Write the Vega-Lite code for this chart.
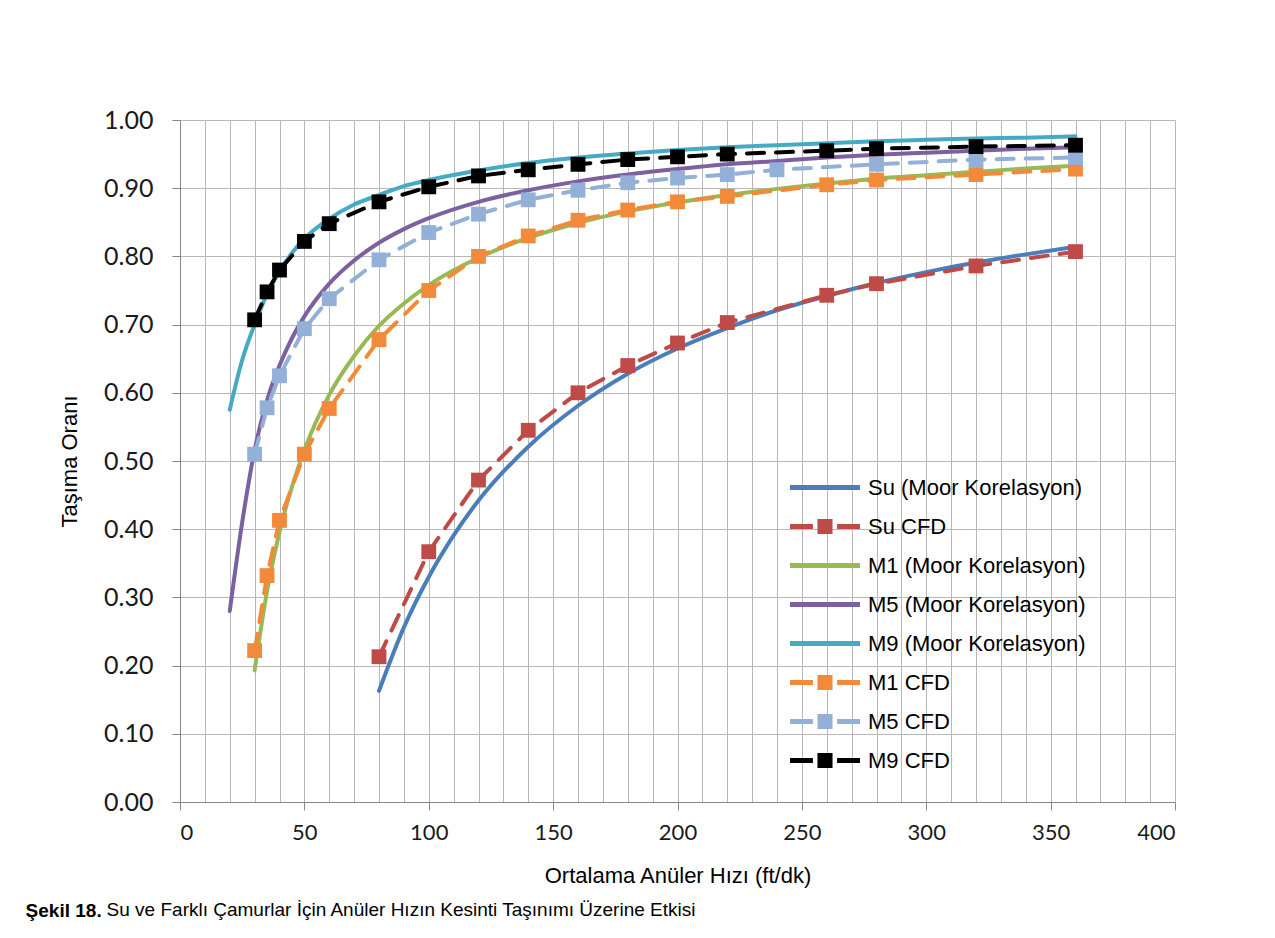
{
  "$schema": "https://vega.github.io/schema/vega-lite/v6.json",
  "background": "white",
  "padding": {"left": 25, "top": 108, "right": 5, "bottom": 5},
  "config": {
    "view": {"stroke": null},
    "font": "Liberation Sans",
    "axis": {
      "domainColor": "#868686",
      "domainWidth": 1,
      "tickColor": "#868686",
      "gridColor": "#b8b8b8",
      "gridWidth": 1,
      "labelFont": "Lato",
      "labelColor": "#1a1a1a",
      "titleFont": "Liberation Sans",
      "titleFontWeight": "normal",
      "titleColor": "#000000"
    }
  },
  "datasets": {
    "series": [
      {"seri": "Su (Moor Korelasyon)"},
      {"seri": "Su CFD"},
      {"seri": "M1 (Moor Korelasyon)"},
      {"seri": "M5 (Moor Korelasyon)"},
      {"seri": "M9 (Moor Korelasyon)"},
      {"seri": "M1 CFD"},
      {"seri": "M5 CFD"},
      {"seri": "M9 CFD"}
    ],
    "moore": [
      {"seri": "Su (Moor Korelasyon)", "v": 80, "oran": 0.163},
      {"seri": "Su (Moor Korelasyon)", "v": 90, "oran": 0.256},
      {"seri": "Su (Moor Korelasyon)", "v": 100, "oran": 0.33},
      {"seri": "Su (Moor Korelasyon)", "v": 110, "oran": 0.391},
      {"seri": "Su (Moor Korelasyon)", "v": 120, "oran": 0.442},
      {"seri": "Su (Moor Korelasyon)", "v": 140, "oran": 0.521},
      {"seri": "Su (Moor Korelasyon)", "v": 160, "oran": 0.581},
      {"seri": "Su (Moor Korelasyon)", "v": 180, "oran": 0.628},
      {"seri": "Su (Moor Korelasyon)", "v": 200, "oran": 0.665},
      {"seri": "Su (Moor Korelasyon)", "v": 220, "oran": 0.695},
      {"seri": "Su (Moor Korelasyon)", "v": 240, "oran": 0.721},
      {"seri": "Su (Moor Korelasyon)", "v": 260, "oran": 0.742},
      {"seri": "Su (Moor Korelasyon)", "v": 280, "oran": 0.761},
      {"seri": "Su (Moor Korelasyon)", "v": 300, "oran": 0.777},
      {"seri": "Su (Moor Korelasyon)", "v": 320, "oran": 0.791},
      {"seri": "Su (Moor Korelasyon)", "v": 340, "oran": 0.803},
      {"seri": "Su (Moor Korelasyon)", "v": 360, "oran": 0.814},

      {"seri": "M1 (Moor Korelasyon)", "v": 30, "oran": 0.193},
      {"seri": "M1 (Moor Korelasyon)", "v": 35, "oran": 0.309},
      {"seri": "M1 (Moor Korelasyon)", "v": 40, "oran": 0.396},
      {"seri": "M1 (Moor Korelasyon)", "v": 45, "oran": 0.462},
      {"seri": "M1 (Moor Korelasyon)", "v": 50, "oran": 0.516},
      {"seri": "M1 (Moor Korelasyon)", "v": 60, "oran": 0.597},
      {"seri": "M1 (Moor Korelasyon)", "v": 70, "oran": 0.654},
      {"seri": "M1 (Moor Korelasyon)", "v": 80, "oran": 0.698},
      {"seri": "M1 (Moor Korelasyon)", "v": 90, "oran": 0.731},
      {"seri": "M1 (Moor Korelasyon)", "v": 100, "oran": 0.758},
      {"seri": "M1 (Moor Korelasyon)", "v": 120, "oran": 0.798},
      {"seri": "M1 (Moor Korelasyon)", "v": 140, "oran": 0.827},
      {"seri": "M1 (Moor Korelasyon)", "v": 160, "oran": 0.849},
      {"seri": "M1 (Moor Korelasyon)", "v": 180, "oran": 0.866},
      {"seri": "M1 (Moor Korelasyon)", "v": 200, "oran": 0.879},
      {"seri": "M1 (Moor Korelasyon)", "v": 220, "oran": 0.89},
      {"seri": "M1 (Moor Korelasyon)", "v": 240, "oran": 0.899},
      {"seri": "M1 (Moor Korelasyon)", "v": 260, "oran": 0.907},
      {"seri": "M1 (Moor Korelasyon)", "v": 280, "oran": 0.914},
      {"seri": "M1 (Moor Korelasyon)", "v": 300, "oran": 0.919},
      {"seri": "M1 (Moor Korelasyon)", "v": 320, "oran": 0.924},
      {"seri": "M1 (Moor Korelasyon)", "v": 340, "oran": 0.929},
      {"seri": "M1 (Moor Korelasyon)", "v": 360, "oran": 0.933},

      {"seri": "M5 (Moor Korelasyon)", "v": 20, "oran": 0.28},
      {"seri": "M5 (Moor Korelasyon)", "v": 25, "oran": 0.41},
      {"seri": "M5 (Moor Korelasyon)", "v": 30, "oran": 0.516},
      {"seri": "M5 (Moor Korelasyon)", "v": 35, "oran": 0.589},
      {"seri": "M5 (Moor Korelasyon)", "v": 40, "oran": 0.64},
      {"seri": "M5 (Moor Korelasyon)", "v": 45, "oran": 0.68},
      {"seri": "M5 (Moor Korelasyon)", "v": 50, "oran": 0.712},
      {"seri": "M5 (Moor Korelasyon)", "v": 60, "oran": 0.76},
      {"seri": "M5 (Moor Korelasyon)", "v": 70, "oran": 0.794},
      {"seri": "M5 (Moor Korelasyon)", "v": 80, "oran": 0.82},
      {"seri": "M5 (Moor Korelasyon)", "v": 90, "oran": 0.84},
      {"seri": "M5 (Moor Korelasyon)", "v": 100, "oran": 0.856},
      {"seri": "M5 (Moor Korelasyon)", "v": 120, "oran": 0.88},
      {"seri": "M5 (Moor Korelasyon)", "v": 140, "oran": 0.897},
      {"seri": "M5 (Moor Korelasyon)", "v": 160, "oran": 0.91},
      {"seri": "M5 (Moor Korelasyon)", "v": 180, "oran": 0.92},
      {"seri": "M5 (Moor Korelasyon)", "v": 200, "oran": 0.928},
      {"seri": "M5 (Moor Korelasyon)", "v": 220, "oran": 0.935},
      {"seri": "M5 (Moor Korelasyon)", "v": 240, "oran": 0.94},
      {"seri": "M5 (Moor Korelasyon)", "v": 260, "oran": 0.945},
      {"seri": "M5 (Moor Korelasyon)", "v": 280, "oran": 0.949},
      {"seri": "M5 (Moor Korelasyon)", "v": 300, "oran": 0.952},
      {"seri": "M5 (Moor Korelasyon)", "v": 320, "oran": 0.955},
      {"seri": "M5 (Moor Korelasyon)", "v": 340, "oran": 0.958},
      {"seri": "M5 (Moor Korelasyon)", "v": 360, "oran": 0.96},

      {"seri": "M9 (Moor Korelasyon)", "v": 20, "oran": 0.575},
      {"seri": "M9 (Moor Korelasyon)", "v": 25, "oran": 0.648},
      {"seri": "M9 (Moor Korelasyon)", "v": 30, "oran": 0.7},
      {"seri": "M9 (Moor Korelasyon)", "v": 35, "oran": 0.745},
      {"seri": "M9 (Moor Korelasyon)", "v": 40, "oran": 0.778},
      {"seri": "M9 (Moor Korelasyon)", "v": 45, "oran": 0.805},
      {"seri": "M9 (Moor Korelasyon)", "v": 50, "oran": 0.826},
      {"seri": "M9 (Moor Korelasyon)", "v": 60, "oran": 0.855},
      {"seri": "M9 (Moor Korelasyon)", "v": 70, "oran": 0.876},
      {"seri": "M9 (Moor Korelasyon)", "v": 80, "oran": 0.89},
      {"seri": "M9 (Moor Korelasyon)", "v": 90, "oran": 0.903},
      {"seri": "M9 (Moor Korelasyon)", "v": 100, "oran": 0.912},
      {"seri": "M9 (Moor Korelasyon)", "v": 120, "oran": 0.926},
      {"seri": "M9 (Moor Korelasyon)", "v": 140, "oran": 0.937},
      {"seri": "M9 (Moor Korelasyon)", "v": 160, "oran": 0.945},
      {"seri": "M9 (Moor Korelasyon)", "v": 180, "oran": 0.951},
      {"seri": "M9 (Moor Korelasyon)", "v": 200, "oran": 0.956},
      {"seri": "M9 (Moor Korelasyon)", "v": 220, "oran": 0.96},
      {"seri": "M9 (Moor Korelasyon)", "v": 240, "oran": 0.963},
      {"seri": "M9 (Moor Korelasyon)", "v": 260, "oran": 0.966},
      {"seri": "M9 (Moor Korelasyon)", "v": 280, "oran": 0.969},
      {"seri": "M9 (Moor Korelasyon)", "v": 300, "oran": 0.971},
      {"seri": "M9 (Moor Korelasyon)", "v": 320, "oran": 0.973},
      {"seri": "M9 (Moor Korelasyon)", "v": 340, "oran": 0.974},
      {"seri": "M9 (Moor Korelasyon)", "v": 360, "oran": 0.976}
    ],
    "cfd": [
      {"seri": "Su CFD", "v": 80, "oran": 0.213},
      {"seri": "Su CFD", "v": 100, "oran": 0.367},
      {"seri": "Su CFD", "v": 120, "oran": 0.472},
      {"seri": "Su CFD", "v": 140, "oran": 0.545},
      {"seri": "Su CFD", "v": 160, "oran": 0.6},
      {"seri": "Su CFD", "v": 180, "oran": 0.64},
      {"seri": "Su CFD", "v": 200, "oran": 0.673},
      {"seri": "Su CFD", "v": 220, "oran": 0.703},
      {"seri": "Su CFD", "v": 260, "oran": 0.743},
      {"seri": "Su CFD", "v": 280, "oran": 0.76},
      {"seri": "Su CFD", "v": 320, "oran": 0.786},
      {"seri": "Su CFD", "v": 360, "oran": 0.807},

      {"seri": "M1 CFD", "v": 30, "oran": 0.222},
      {"seri": "M1 CFD", "v": 35, "oran": 0.332},
      {"seri": "M1 CFD", "v": 40, "oran": 0.413},
      {"seri": "M1 CFD", "v": 50, "oran": 0.51},
      {"seri": "M1 CFD", "v": 60, "oran": 0.577},
      {"seri": "M1 CFD", "v": 80, "oran": 0.678},
      {"seri": "M1 CFD", "v": 100, "oran": 0.75},
      {"seri": "M1 CFD", "v": 120, "oran": 0.8},
      {"seri": "M1 CFD", "v": 140, "oran": 0.83},
      {"seri": "M1 CFD", "v": 160, "oran": 0.853},
      {"seri": "M1 CFD", "v": 180, "oran": 0.868},
      {"seri": "M1 CFD", "v": 200, "oran": 0.88},
      {"seri": "M1 CFD", "v": 220, "oran": 0.888},
      {"seri": "M1 CFD", "v": 260, "oran": 0.905},
      {"seri": "M1 CFD", "v": 280, "oran": 0.912},
      {"seri": "M1 CFD", "v": 320, "oran": 0.92},
      {"seri": "M1 CFD", "v": 360, "oran": 0.928},

      {"seri": "M5 CFD", "v": 30, "oran": 0.51},
      {"seri": "M5 CFD", "v": 35, "oran": 0.578},
      {"seri": "M5 CFD", "v": 40, "oran": 0.625},
      {"seri": "M5 CFD", "v": 50, "oran": 0.694},
      {"seri": "M5 CFD", "v": 60, "oran": 0.738},
      {"seri": "M5 CFD", "v": 80, "oran": 0.795},
      {"seri": "M5 CFD", "v": 100, "oran": 0.835},
      {"seri": "M5 CFD", "v": 120, "oran": 0.862},
      {"seri": "M5 CFD", "v": 140, "oran": 0.883},
      {"seri": "M5 CFD", "v": 160, "oran": 0.897},
      {"seri": "M5 CFD", "v": 180, "oran": 0.908},
      {"seri": "M5 CFD", "v": 200, "oran": 0.915},
      {"seri": "M5 CFD", "v": 220, "oran": 0.92},
      {"seri": "M5 CFD", "v": 240, "oran": 0.927},
      {"seri": "M5 CFD", "v": 280, "oran": 0.935},
      {"seri": "M5 CFD", "v": 320, "oran": 0.942},
      {"seri": "M5 CFD", "v": 360, "oran": 0.945},

      {"seri": "M9 CFD", "v": 30, "oran": 0.707},
      {"seri": "M9 CFD", "v": 35, "oran": 0.748},
      {"seri": "M9 CFD", "v": 40, "oran": 0.78},
      {"seri": "M9 CFD", "v": 50, "oran": 0.822},
      {"seri": "M9 CFD", "v": 60, "oran": 0.848},
      {"seri": "M9 CFD", "v": 80, "oran": 0.88},
      {"seri": "M9 CFD", "v": 100, "oran": 0.902},
      {"seri": "M9 CFD", "v": 120, "oran": 0.918},
      {"seri": "M9 CFD", "v": 140, "oran": 0.927},
      {"seri": "M9 CFD", "v": 160, "oran": 0.935},
      {"seri": "M9 CFD", "v": 180, "oran": 0.942},
      {"seri": "M9 CFD", "v": 200, "oran": 0.946},
      {"seri": "M9 CFD", "v": 220, "oran": 0.95},
      {"seri": "M9 CFD", "v": 260, "oran": 0.955},
      {"seri": "M9 CFD", "v": 280, "oran": 0.958},
      {"seri": "M9 CFD", "v": 320, "oran": 0.961},
      {"seri": "M9 CFD", "v": 360, "oran": 0.963}
    ]
  },
  "title": {
    "text": "Su ve Farklı Çamurlar İçin Anüler Hızın Kesinti Taşınımı Üzerine Etkisi",
    "orient": "bottom",
    "anchor": "start",
    "frame": "bounds",
    "font": "Liberation Sans",
    "fontSize": 19,
    "fontWeight": "normal",
    "color": "#000000",
    "dx": 81,
    "offset": -20
  },
  "vconcat": [
    {
      "width": 995,
      "height": 682,
      "title": {
        "text": "Şekil 18.",
        "orient": "bottom",
        "anchor": "start",
        "frame": "bounds",
        "font": "Liberation Sans",
        "fontSize": 19,
        "fontWeight": "bold",
        "color": "#000000",
        "dx": -33,
        "offset": 16
      },
      "encoding": {
        "x": {
          "field": "v",
          "type": "quantitative",
          "scale": {"domain": [0, 400], "nice": false},
          "axis": {
            "title": "Ortalama Anüler Hızı (ft/dk)",
            "titleFontSize": 22,
            "titlePadding": 22,
            "values": [0, 10, 20, 30, 40, 50, 60, 70, 80, 90, 100, 110, 120, 130, 140, 150, 160, 170, 180, 190, 200, 210, 220, 230, 240, 250, 260, 270, 280, 290, 300, 310, 320, 330, 340, 350, 360, 370, 380, 390, 400],
            "labelExpr": "datum.value % 50 === 0 ? datum.label : ''",
            "labelOverlap": false,
            "labelFontSize": 22,
            "labelPadding": 12,
            "tickSize": 8,
            "tickOpacity": {"condition": {"test": "datum.value % 50 === 0", "value": 1}, "value": 0}
          }
        },
        "y": {
          "field": "oran",
          "type": "quantitative",
          "scale": {"domain": [0, 1], "nice": false},
          "axis": {
            "title": "Taşıma Oranı",
            "titleFontSize": 22,
            "titlePadding": 22,
            "values": [0, 0.1, 0.2, 0.3, 0.4, 0.5, 0.6, 0.7, 0.8, 0.9, 1],
            "format": ".2f",
            "labelFontSize": 25,
            "labelPadding": 19,
            "tickSize": 8
          }
        }
      },
      "layer": [
        {
          "data": {"values": [{"kutu": "lejant"}]},
          "mark": {"type": "rect", "color": "#ffffff", "opacity": 1},
          "encoding": {
            "x": {"datum": 231, "type": "quantitative"},
            "x2": {"datum": 397},
            "y": {"datum": 0.032, "type": "quantitative"},
            "y2": {"datum": 0.498}
          }
        },
        {
          "data": {"name": "moore"},
          "mark": {"type": "line", "strokeWidth": 4, "interpolate": "monotone", "strokeCap": "round"},
          "encoding": {
            "color": {
              "field": "seri",
              "type": "nominal",
              "scale": {
                "domain": ["M9 CFD", "M5 CFD", "M1 CFD", "M9 (Moor Korelasyon)", "M5 (Moor Korelasyon)", "M1 (Moor Korelasyon)", "Su CFD", "Su (Moor Korelasyon)"],
                "range": ["#000000", "#93b1d8", "#f38a3a", "#46aac5", "#7d60a0", "#98b954", "#be4b48", "#4a7ebb"]
              },
              "legend": null
            }
          }
        },
        {
          "data": {"name": "cfd"},
          "mark": {"type": "line", "strokeWidth": 4, "strokeDash": [17, 12], "strokeCap": "round"},
          "encoding": {
            "color": {"field": "seri", "type": "nominal", "legend": null}
          }
        },
        {
          "data": {"name": "cfd"},
          "mark": {"type": "point", "shape": "square", "filled": true, "size": 220, "opacity": 1, "strokeWidth": 0},
          "encoding": {
            "color": {"field": "seri", "type": "nominal", "legend": null}
          }
        },
        {
          "data": {"name": "series"},
          "mark": {"type": "point", "filled": true, "opacity": 1, "strokeWidth": 0},
          "encoding": {
            "shape": {
              "field": "seri",
              "type": "nominal",
              "scale": {
                "domain": ["Su (Moor Korelasyon)", "Su CFD", "M1 (Moor Korelasyon)", "M5 (Moor Korelasyon)", "M9 (Moor Korelasyon)", "M1 CFD", "M5 CFD", "M9 CFD"],
                "range": [
                  "M-1,-0.143H3V0.143H-1Z",
                  "M-1,-0.143H0.31V0.143H-1Z M0.57,-0.43H1.43V0.43H0.57Z M1.69,-0.143H3V0.143H1.69Z",
                  "M-1,-0.143H3V0.143H-1Z",
                  "M-1,-0.143H3V0.143H-1Z",
                  "M-1,-0.143H3V0.143H-1Z",
                  "M-1,-0.143H0.31V0.143H-1Z M0.57,-0.43H1.43V0.43H0.57Z M1.69,-0.143H3V0.143H1.69Z",
                  "M-1,-0.143H0.31V0.143H-1Z M0.57,-0.43H1.43V0.43H0.57Z M1.69,-0.143H3V0.143H1.69Z",
                  "M-1,-0.143H0.31V0.143H-1Z M0.57,-0.43H1.43V0.43H0.57Z M1.69,-0.143H3V0.143H1.69Z"
                ]
              },
              "legend": {
                "title": null,
                "orient": "none",
                "legendX": 610,
                "legendY": 350,
                "padding": 0,
                "symbolSize": 1225,
                "symbolStrokeWidth": 0,
                "symbolOpacity": 1,
                "labelFont": "Liberation Sans",
                "labelFontSize": 22,
                "labelColor": "#000000",
                "labelOffset": 43,
                "labelLimit": 400,
                "rowPadding": 10
              }
            },
            "fill": {
              "field": "seri",
              "type": "nominal",
              "scale": {
                "domain": ["Su (Moor Korelasyon)", "Su CFD", "M1 (Moor Korelasyon)", "M5 (Moor Korelasyon)", "M9 (Moor Korelasyon)", "M1 CFD", "M5 CFD", "M9 CFD"],
                "range": ["#4a7ebb", "#be4b48", "#98b954", "#7d60a0", "#46aac5", "#f38a3a", "#93b1d8", "#000000"]
              }
            }
          }
        }
      ]
    }
  ]
}
